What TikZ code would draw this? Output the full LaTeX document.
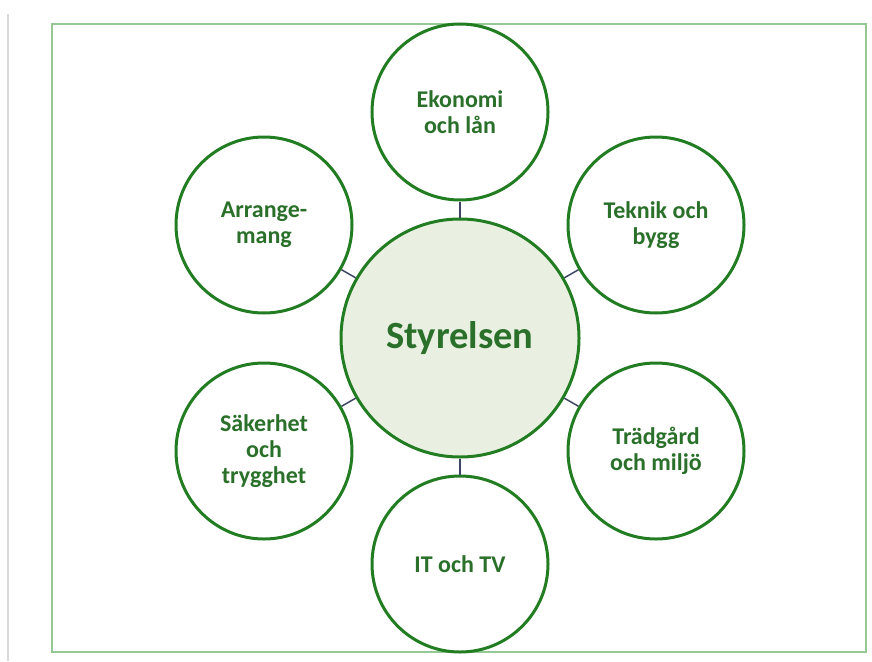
\documentclass[tikz,border=0pt]{standalone}
\usepackage{fontspec}
\setmainfont{Carlito}
\definecolor{ringgreen}{RGB}{34,125,34}
\definecolor{txtgreen}{RGB}{42,112,42}
\definecolor{hubfill}{RGB}{234,240,225}
\definecolor{frameline}{RGB}{150,200,150}
\definecolor{linkline}{RGB}{60,70,100}
\begin{document}
\begin{tikzpicture}[x=1pt,y=-1pt,
  sat/.style={circle,draw=ringgreen,line width=3pt,fill=white,minimum size=176pt,inner sep=0pt,
    align=center,text=txtgreen,font=\bfseries\fontsize{24}{26}\selectfont},
  hub/.style={circle,draw=ringgreen,line width=3pt,fill=hubfill,minimum size=238pt,inner sep=0pt,
    text=txtgreen,font=\bfseries\fontsize{38.5}{40}\selectfont},
  link/.style={draw=linkline,line width=1.5pt}]
\useasboundingbox (0,0) rectangle (872,661);
\fill[white] (0,0) rectangle (872,661);
\draw[gray!30,line width=1.5pt] (8,14) -- (8,661);
\draw[frameline,line width=1.5pt] (52,24) rectangle (866,652);
\node[hub] (hub) at (460,338) {Styrelsen};
\node[sat] (eko) at (460,112) {Ekonomi\\och lån};
\node[sat] (tek) at (656,225) {Teknik och\\bygg};
\node[sat] (tra) at (656,451) {Trädgård\\och miljö};
\node[sat] (it) at (460,564) {IT och TV};
\node[sat] (sak) at (264,451) {Säkerhet\\och\\trygghet};
\node[sat] (arr) at (264,225) {Arrange-\\mang};
\foreach \n in {eko,tek,tra,it,sak,arr}{\path[link] (hub) -- (\n);}
\end{tikzpicture}
\end{document}
